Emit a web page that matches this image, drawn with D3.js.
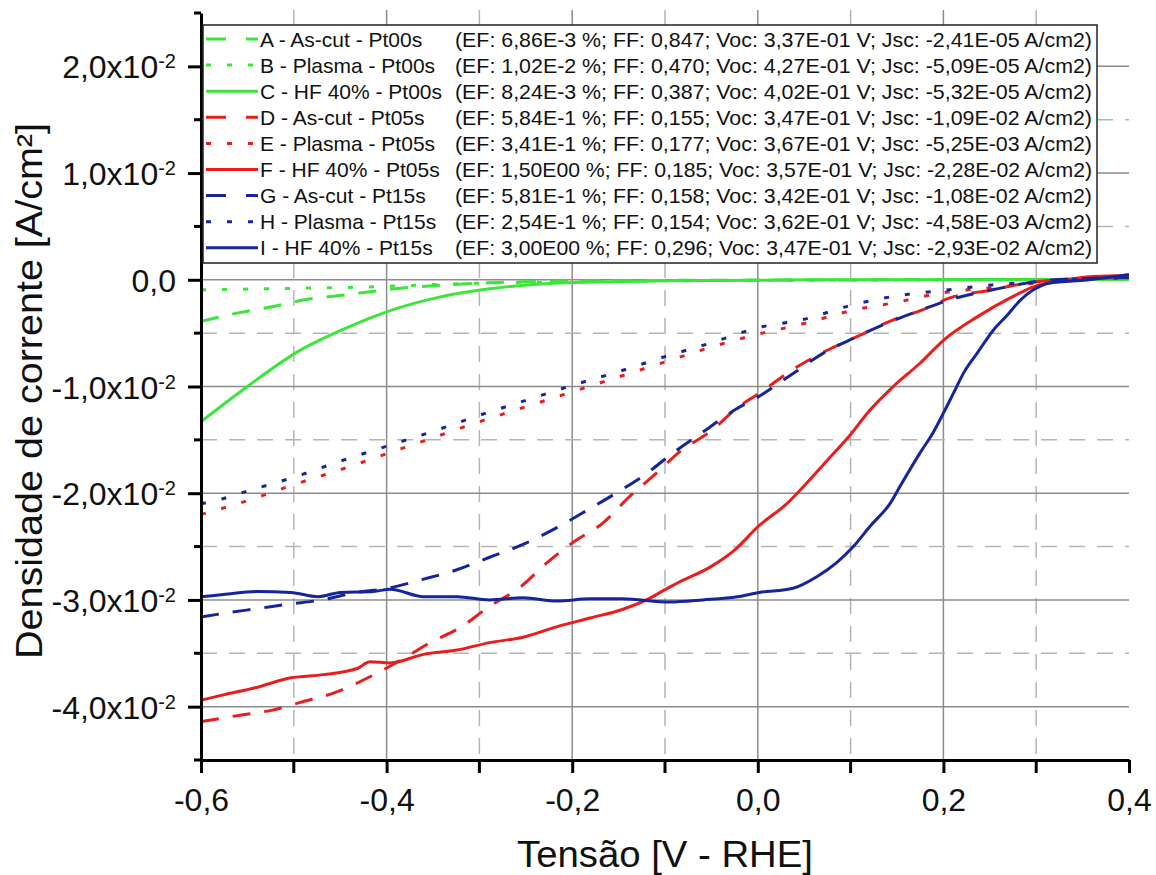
<!DOCTYPE html>
<html>
<head>
    <script src="https://d3js.org/d3.v7.min.js"></script>
    <style>
        body {margin: 0; background: #fff; font-family: "Liberation Sans", Arial, Helvetica, sans-serif;}
        svg text { font-family: "Liberation Sans", Arial, Helvetica, sans-serif; }
        .grid-major { stroke: #8c8c8c; stroke-width: 1.5px; }
        .grid-minor { stroke: #b4b4b4; stroke-width: 1.5px; stroke-dasharray: 16,12; }
        .axis path, .axis line { stroke: #000; stroke-width: 3px; }
        .axis text { font-size: 32px; fill: #111; }
        .curve { fill: none; stroke-width: 3px; stroke-linejoin: round; }
        .legend text { font-size: 21px; fill: #111; }
    </style>
</head>
<body>
    <svg width="1156" height="875"></svg>
    <script>
        // Voltage (V vs RHE) and current density (in units of 1e-2 A/cm2)
        const curveA = [[-0.6,-0.39],[-0.56,-0.31],[-0.522,-0.25],[-0.49,-0.19],[-0.443,-0.14],[-0.407,-0.10],
            [-0.367,-0.066],[-0.332,-0.047],[-0.289,-0.028],[-0.253,-0.019],[-0.15,-0.008],[0.0,-0.003],[0.2,0],[0.4,0.002]];
        const curveB = [[-0.6,-0.094],[-0.5,-0.08],[-0.4,-0.062],[-0.357,-0.047],[-0.289,-0.03],[-0.2,-0.02],
            [-0.1,-0.01],[0.0,-0.005],[0.2,0],[0.4,0.002]];
        const curveC = [[-0.6,-1.33],[-0.55,-1.0],[-0.497,-0.68],[-0.443,-0.45],[-0.4,-0.30],[-0.342,-0.16],
            [-0.289,-0.085],[-0.216,-0.03],[-0.1,-0.01],[0.1,0],[0.4,0.002]];
        const curveD = [[-0.6,-4.14],[-0.558,-4.08],[-0.522,-4.03],[-0.493,-3.96],[-0.453,-3.86],[-0.418,-3.72],
            [-0.378,-3.53],[-0.353,-3.40],[-0.321,-3.26],[-0.289,-3.06],[-0.256,-2.88],[-0.227,-2.65],[-0.199,-2.46],
            [-0.167,-2.28],[-0.138,-2.03],[-0.109,-1.81],[-0.084,-1.61],[-0.051,-1.42],[-0.022,-1.20],[0.002,-1.06],
            [0.038,-0.84],[0.075,-0.66],[0.110,-0.52],[0.146,-0.375],[0.178,-0.28],[0.207,-0.17],[0.253,-0.094],
            [0.290,-0.03],[0.326,0],[0.4,0.02]];
        const curveE = [[-0.6,-2.2],[-0.55,-2.07],[-0.5,-1.92],[-0.45,-1.78],[-0.4,-1.63],[-0.35,-1.48],[-0.3,-1.33],
            [-0.25,-1.19],[-0.2,-1.05],[-0.15,-0.91],[-0.1,-0.77],[-0.05,-0.63],[0.0,-0.51],[0.05,-0.41],[0.1,-0.29],
            [0.15,-0.21],[0.2,-0.12],[0.25,-0.075],[0.3,-0.03],[0.34,0],[0.4,0.02]];
        const curveF = [[-0.6,-3.94],[-0.576,-3.89],[-0.54,-3.82],[-0.503,-3.73],[-0.468,-3.70],[-0.431,-3.64],
            [-0.418,-3.58],[-0.396,-3.59],[-0.36,-3.51],[-0.324,-3.47],[-0.289,-3.40],[-0.253,-3.35],[-0.216,-3.25],
            [-0.181,-3.17],[-0.146,-3.09],[-0.12,-3.0],[-0.095,-2.88],[-0.084,-2.83],[-0.051,-2.69],[-0.026,-2.54],
            [0.002,-2.30],[0.031,-2.10],[0.05,-1.93],[0.075,-1.69],[0.1,-1.45],[0.118,-1.25],[0.146,-1.00],
            [0.175,-0.78],[0.201,-0.56],[0.236,-0.35],[0.272,-0.17],[0.297,-0.066],[0.326,-0.01],[0.362,0.03],[0.4,0.04]];
        const curveG = [[-0.6,-3.16],[-0.571,-3.12],[-0.538,-3.08],[-0.506,-3.04],[-0.47,-3.0],[-0.433,-2.93],
            [-0.398,-2.89],[-0.362,-2.81],[-0.325,-2.72],[-0.289,-2.60],[-0.253,-2.48],[-0.216,-2.32],[-0.184,-2.16],
            [-0.151,-1.99],[-0.119,-1.81],[-0.094,-1.64],[-0.058,-1.42],[-0.025,-1.22],[0.0,-1.10],[0.036,-0.89],
            [0.072,-0.68],[0.105,-0.54],[0.141,-0.40],[0.177,-0.28],[0.206,-0.19],[0.253,-0.094],[0.29,-0.03],
            [0.32,0],[0.4,0.02]];
        const curveH = [[-0.6,-2.10],[-0.58,-2.06],[-0.55,-1.98],[-0.5,-1.85],[-0.45,-1.70],[-0.4,-1.56],
            [-0.35,-1.42],[-0.3,-1.27],[-0.25,-1.13],[-0.2,-0.99],[-0.15,-0.86],[-0.1,-0.72],[-0.05,-0.59],
            [0.0,-0.45],[0.05,-0.37],[0.1,-0.24],[0.15,-0.15],[0.2,-0.10],[0.25,-0.05],[0.3,-0.02],[0.33,0],[0.4,0.02]];
        const curveI = [[-0.6,-2.97],[-0.576,-2.95],[-0.54,-2.92],[-0.503,-2.93],[-0.474,-2.97],[-0.45,-2.93],
            [-0.414,-2.92],[-0.396,-2.90],[-0.36,-2.97],[-0.324,-2.97],[-0.289,-3.0],[-0.253,-2.98],[-0.216,-3.01],
            [-0.181,-2.99],[-0.146,-2.99],[-0.095,-3.02],[-0.059,-3.0],[-0.022,-2.97],[0.002,-2.93],[0.038,-2.89],
            [0.064,-2.78],[0.085,-2.65],[0.103,-2.50],[0.121,-2.31],[0.143,-2.09],[0.153,-1.94],[0.175,-1.62],
            [0.189,-1.43],[0.2,-1.25],[0.211,-1.06],[0.222,-0.87],[0.237,-0.68],[0.254,-0.47],[0.269,-0.33],
            [0.283,-0.19],[0.297,-0.094],[0.315,-0.03],[0.344,-0.01],[0.4,0.05]];

        const legendNames = ["A - As-cut - Pt00s", "B - Plasma - Pt00s", "C - HF 40% - Pt00s",
            "D - As-cut - Pt05s", "E - Plasma - Pt05s", "F - HF 40% - Pt05s",
            "G - As-cut - Pt15s", "H - Plasma - Pt15s", "I - HF 40% - Pt15s"];
        const legendStats = [
            "(EF: 6,86E-3 %; FF: 0,847; Voc: 3,37E-01 V; Jsc: -2,41E-05 A/cm2)",
            "(EF: 1,02E-2 %; FF: 0,470; Voc: 4,27E-01 V; Jsc: -5,09E-05 A/cm2)",
            "(EF: 8,24E-3 %; FF: 0,387; Voc: 4,02E-01 V; Jsc: -5,32E-05 A/cm2)",
            "(EF: 5,84E-1 %; FF: 0,155; Voc: 3,47E-01 V; Jsc: -1,09E-02 A/cm2)",
            "(EF: 3,41E-1 %; FF: 0,177; Voc: 3,67E-01 V; Jsc: -5,25E-03 A/cm2)",
            "(EF: 1,50E00 %; FF: 0,185; Voc: 3,57E-01 V; Jsc: -2,28E-02 A/cm2)",
            "(EF: 5,81E-1 %; FF: 0,158; Voc: 3,42E-01 V; Jsc: -1,08E-02 A/cm2)",
            "(EF: 2,54E-1 %; FF: 0,154; Voc: 3,62E-01 V; Jsc: -4,58E-03 A/cm2)",
            "(EF: 3,00E00 %; FF: 0,296; Voc: 3,47E-01 V; Jsc: -2,93E-02 A/cm2)"];

        const xMajor = [-0.6, -0.4, -0.2, 0.0, 0.2, 0.4];
        const xMinor = [-0.5, -0.3, -0.1, 0.1, 0.3];
        const yMajor = [0.02, 0.01, 0.0, -0.01, -0.02, -0.03, -0.04];
        const yMinor = [0.025, 0.015, 0.005, -0.005, -0.015, -0.025, -0.035, -0.045];

        const green = "#3ae63a", red = "#ea1c1c", blue = "#16259c";
        const dashed = "18,14", dotted = "5,16";
        let series = [
            {data: curveA, color: green, dash: dashed},
            {data: curveB, color: green, dash: dotted},
            {data: curveC, color: green, dash: null},
            {data: curveD, color: red, dash: dashed},
            {data: curveE, color: red, dash: dotted},
            {data: curveF, color: red, dash: null},
            {data: curveG, color: blue, dash: dashed},
            {data: curveH, color: blue, dash: dotted},
            {data: curveI, color: blue, dash: null}
        ];

        let svg = d3.select("svg");
        let x = d3.scaleLinear().domain([-0.6, 0.4]).range([201, 1129]);
        let y = d3.scaleLinear().domain([-0.045, 0.025]).range([760, 13]);

        // grid
        let grid = svg.append("g");
        grid.selectAll(".gx-minor").data(xMinor).enter().append("line")
            .attr("class", "grid-minor")
            .attr("x1", d => x(d)).attr("x2", d => x(d))
            .attr("y1", y(0.025) - 3).attr("y2", y(-0.045));
        grid.selectAll(".gx-major").data(xMajor.slice(1, -1)).enter().append("line")
            .attr("class", "grid-major")
            .attr("x1", d => x(d)).attr("x2", d => x(d))
            .attr("y1", y(0.025) - 3).attr("y2", y(-0.045));
        grid.selectAll(".gy-minor").data(yMinor.slice(1, -1)).enter().append("line")
            .attr("class", "grid-minor")
            .attr("x1", x(-0.6)).attr("x2", x(0.4))
            .attr("y1", d => y(d)).attr("y2", d => y(d));
        grid.selectAll(".gy-major").data(yMajor).enter().append("line")
            .attr("class", "grid-major")
            .attr("x1", x(-0.6)).attr("x2", x(0.4))
            .attr("y1", d => y(d)).attr("y2", d => y(d));

        // curves
        let line = d3.line()
            .x(d => x(d[0]))
            .y(d => y(d[1] * 1e-2))
            .curve(d3.curveMonotoneX);
        svg.selectAll(".curve").data(series).enter().append("path")
            .attr("class", "curve")
            .attr("d", d => line(d.data))
            .attr("stroke", d => d.color)
            .attr("stroke-dasharray", d => d.dash);

        // axes
        let xAxis = svg.append("g").attr("class", "axis")
            .attr("transform", "translate(0," + y(-0.045) + ")")
            .call(d3.axisBottom(x).tickValues(xMajor).tickSize(13).tickSizeOuter(0)
                .tickFormat(d => d3.format(".1f")(d).replace(".", ",").replace("−", "-")));
        xAxis.selectAll(".tick text").attr("y", 51).attr("dy", 0);
        xAxis.selectAll(".minor").data(xMinor).enter().append("line")
            .attr("class", "minor")
            .attr("x1", d => x(d)).attr("x2", d => x(d))
            .attr("y1", 0).attr("y2", 13);

        let yAxis = svg.append("g").attr("class", "axis")
            .attr("transform", "translate(" + x(-0.6) + ",0)")
            .call(d3.axisLeft(y).tickValues(yMajor).tickSize(13).tickSizeOuter(0).tickFormat(""));
        yAxis.selectAll(".minor").data(yMinor).enter().append("line")
            .attr("class", "minor")
            .attr("x1", -7).attr("x2", 0)
            .attr("y1", d => y(d)).attr("y2", d => y(d));
        yAxis.selectAll(".tick").each(function(d) {
            let t = d3.select(this).append("text")
                .attr("x", -25).attr("dy", "0.36em")
                .attr("text-anchor", "end")
                .attr("fill", "#111");
            if (Math.abs(d) < 1e-9) {
                t.text("0,0");
            } else {
                t.append("tspan").text(d3.format(".1f")(d * 100).replace(".", ",").replace("−", "-") + "x10");
                t.append("tspan").text("-2")
                    .attr("font-size", "20px")
                    .attr("dy", "-0.5em");
            }
        });

        // axis titles
        svg.append("text")
            .attr("x", 665).attr("y", 867)
            .attr("text-anchor", "middle")
            .attr("font-size", "36px").attr("fill", "#111")
            .attr("textLength", 296).attr("lengthAdjust", "spacingAndGlyphs")
            .text("Tensão [V - RHE]");
        svg.append("text")
            .attr("transform", "translate(42,391) rotate(-90)")
            .attr("text-anchor", "middle")
            .attr("font-size", "36px").attr("fill", "#111")
            .attr("textLength", 536).attr("lengthAdjust", "spacingAndGlyphs")
            .text("Densidade de corrente [A/cm²]");

        // legend
        let legend = svg.append("g").attr("class", "legend");
        legend.append("rect")
            .attr("x", 203).attr("y", 25).attr("width", 894).attr("height", 238)
            .attr("fill", "#fff").attr("stroke", "#222").attr("stroke-width", 1.5);
        let rows = legend.selectAll(".row").data(series).enter().append("g")
            .attr("transform", (d, i) => "translate(0," + (39 + i * 26.1) + ")");
        rows.append("line")
            .attr("x1", 206).attr("x2", 258).attr("y1", 0).attr("y2", 0)
            .attr("stroke", d => d.color).attr("stroke-width", 3)
            .attr("stroke-dasharray", d => d.dash === dashed ? "20,20" : d.dash);
        rows.append("text")
            .attr("x", 260).attr("dy", "0.36em")
            .text((d, i) => legendNames[i]);
        rows.append("text")
            .attr("x", 455).attr("dy", "0.36em")
            .attr("textLength", 637).attr("lengthAdjust", "spacingAndGlyphs")
            .text((d, i) => legendStats[i]);
    </script>
</body>
</html>
